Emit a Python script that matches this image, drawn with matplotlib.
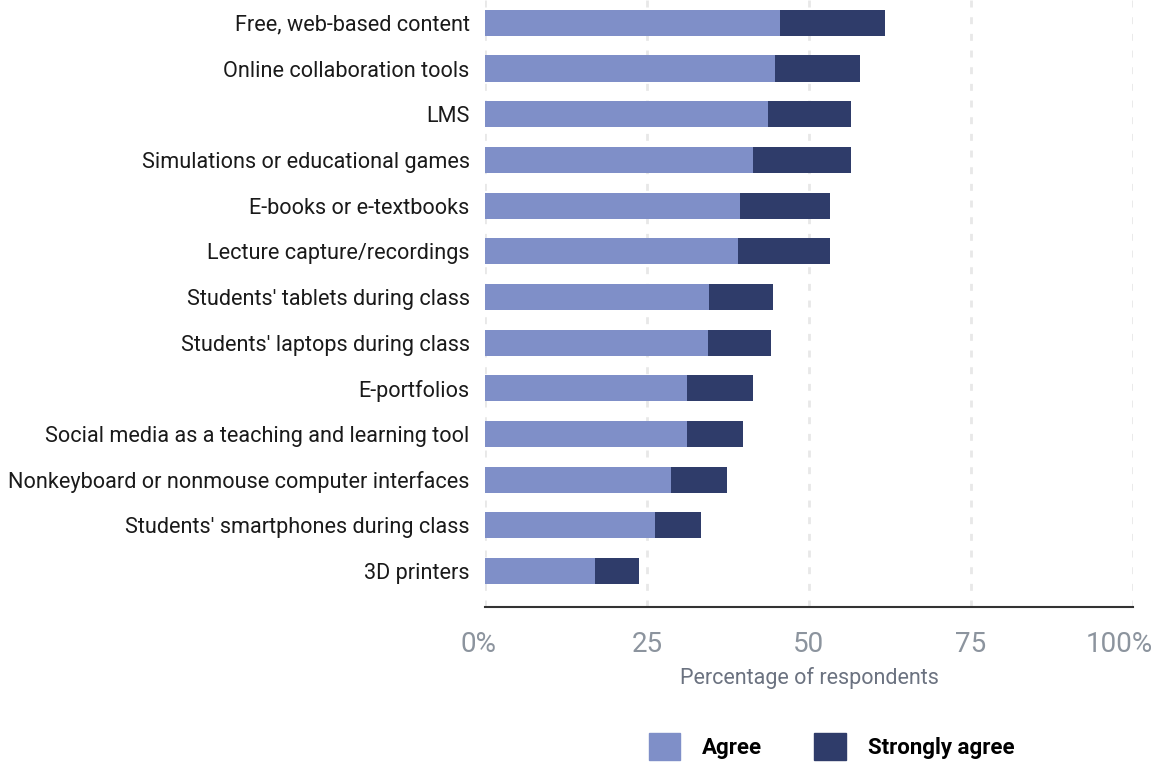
import matplotlib
matplotlib.use("Agg")
import matplotlib.pyplot as plt
from matplotlib.patches import Patch
from matplotlib.transforms import ScaledTranslation

categories = [
    "Free, web-based content",
    "Online collaboration tools",
    "LMS",
    "Simulations or educational games",
    "E-books or e-textbooks",
    "Lecture capture/recordings",
    "Students' tablets during class",
    "Students' laptops during class",
    "E-portfolios",
    "Social media as a teaching and learning tool",
    "Nonkeyboard or nonmouse computer interfaces",
    "Students' smartphones during class",
    "3D printers",
]
agree = [45.5, 44.7, 43.6, 41.4, 39.4, 39.1, 34.5, 34.4, 31.1, 31.1, 28.7, 26.2, 16.9]
total = [61.8, 57.8, 56.5, 56.5, 53.3, 53.3, 44.4, 44.2, 41.3, 39.8, 37.3, 33.4, 23.7]
strongly = [t - a for t, a in zip(total, agree)]

AGREE_COLOR = "#7f8fc8"
STRONG_COLOR = "#2f3c6a"
TICK_GRAY = "#8c949e"

plt.rcParams["font.family"] = ["Roboto", "DejaVu Sans"]

fig = plt.figure(figsize=(11.63, 7.63), dpi=100)
ax = fig.add_axes([485 / 1163, (763 - 607) / 763, (1133 - 485) / 1163, 607 / 763])

y = list(range(len(categories)))
ax.barh(y, agree, height=0.57, color=AGREE_COLOR, zorder=3)
ax.barh(y, strongly, left=agree, height=0.57, color=STRONG_COLOR, zorder=3)

ax.set_xlim(0, 100)
ax.set_ylim(12.79, -0.5)
ax.set_yticks(y)
ax.set_yticklabels(categories, fontsize=15.6, color="#1a1a1a")
ax.tick_params(axis="y", length=0, pad=11)

ax.set_xticks([0, 25, 50, 75, 100])
ax.set_xticklabels(["0%", "25", "50", "75", "100%"], fontsize=20, color=TICK_GRAY)
ax.tick_params(axis="x", length=0, pad=17.5)
xlabels = ax.get_xticklabels()
xlabels[0].set_transform(xlabels[0].get_transform() + ScaledTranslation(-7 / 100, 0, fig.dpi_scale_trans))
xlabels[-1].set_transform(xlabels[-1].get_transform() + ScaledTranslation(-14 / 100, 0, fig.dpi_scale_trans))
ax.set_xlabel("Percentage of respondents", fontsize=15.5, color="#6b7280", labelpad=6)

ax.grid(axis="x", color="#e8e8e8", linestyle=(0, (2.5, 3.5)), linewidth=2, zorder=0)
for side in ["top", "right", "left"]:
    ax.spines[side].set_visible(False)
ax.spines["bottom"].set_color("#333333")
ax.spines["bottom"].set_linewidth(1.5)

handles = [Patch(color=AGREE_COLOR, label="Agree"),
           Patch(color=STRONG_COLOR, label="Strongly agree")]
fig.legend(handles=handles, loc="lower center", bbox_to_anchor=(0.715, -0.022), ncol=2,
           frameon=False, prop={"size": 16, "weight": "bold"},
           handlelength=1.4, handleheight=1.5, columnspacing=2.35, handletextpad=1.0)

fig.savefig("out.png", dpi=100)
